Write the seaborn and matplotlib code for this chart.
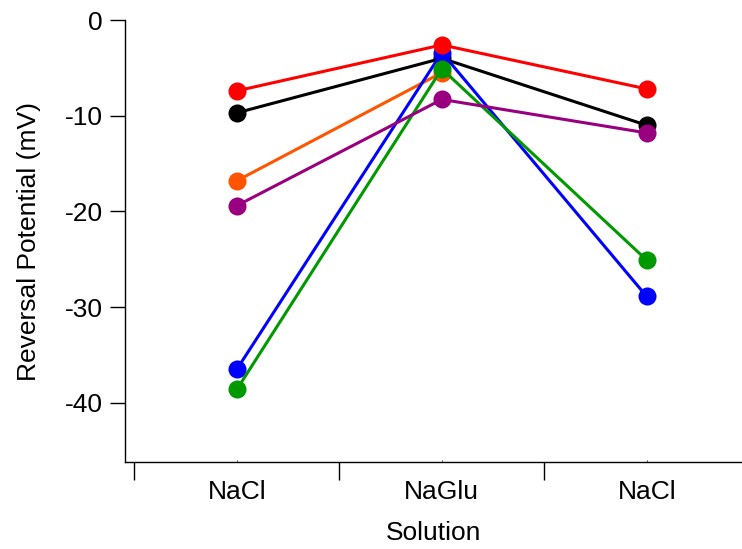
import numpy as np
import pandas as pd
import seaborn as sns
import matplotlib.pyplot as plt

# data
solutions = ["NaCl", "NaGlu", "NaCl"]
black = [-9.7, -4.0, -11.0]
orange = [-16.8, -5.5, np.nan]
blue = [-36.5, -3.4, -28.9]
green = [-38.6, -5.1, -25.1]
purple = [-19.4, -8.3, -11.8]
red = [-7.4, -2.6, -7.2]

series = {
    "black": (black, "#000000"),
    "orange": (orange, "#FF5500"),
    "blue": (blue, "#0000FF"),
    "green": (green, "#009900"),
    "purple": (purple, "#990080"),
    "red": (red, "#FF0000"),
}

sns.set_style("ticks")
plt.rcParams["font.family"] = ["Liberation Sans", "DejaVu Sans"]
plt.rcParams["text.color"] = "black"
plt.rcParams["axes.labelcolor"] = "black"
plt.rcParams["xtick.color"] = "black"
plt.rcParams["ytick.color"] = "black"

fig = plt.figure(figsize=(7.42, 5.49), dpi=100)
ax = fig.add_axes([0.1685, 0.1585, 0.8315, 0.805])

pos = np.arange(len(solutions))
for name, (vals, col) in series.items():
    df = pd.DataFrame({"pos": pos, "val": vals}).dropna()
    sns.lineplot(data=df, x="pos", y="val", color=col, lw=2.2, marker="o",
                 markersize=13, markeredgecolor=col, markeredgewidth=0, ax=ax)

ax.set_xlim(-0.546, 2.465)
ax.set_ylim(-46.2, 0)
ax.set_yticks([0, -10, -20, -30, -40])
ax.set_yticklabels(["0", "-10", "-20", "-30", "-40"])

ax.set_xticks(pos - 0.5, minor=False)
ax.set_xticklabels([])
ax.set_xticks(pos, minor=True)
ax.set_xticklabels(solutions, minor=True)
ax.tick_params(axis="x", which="major", length=13, width=1, direction="out")
ax.tick_params(axis="x", which="minor", length=1.5, width=0.5, direction="in",
               labelsize=19, pad=13)
ax.tick_params(axis="y", length=11, width=1, direction="out", labelsize=19, pad=5)

sns.despine(ax=ax, top=True, right=True)
for s in ["left", "bottom"]:
    ax.spines[s].set_linewidth(1)
    ax.spines[s].set_color("black")

ax.set_xlabel("Solution", fontsize=19, labelpad=12)
ax.set_ylabel("Reversal Potential (mV)", fontsize=19, labelpad=17)

plt.savefig("out.png", dpi=100)
